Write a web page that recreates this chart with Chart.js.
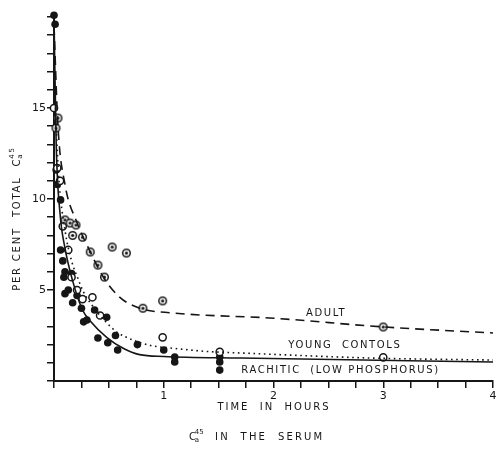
<!DOCTYPE html>
<html>
<head>
<meta charset="utf-8">
<script src="https://cdn.jsdelivr.net/npm/chart.js@4/dist/chart.umd.min.js"></script>
<style>
  html, body { margin: 0; padding: 0; background: #fff; }
</style>
</head>
<body>
<canvas id="grafica" width="500" height="457"></canvas>
<script>
// curvas ajustadas (horas, % total Ca45)
const curvaAdultoT = [0, 0.036, 0.1, 0.21, 0.33, 0.45, 0.6, 0.78, 1.08, 2.0, 3.0, 4.0];
const curvaAdultoV = [19.5, 14, 10.8, 8.7, 7.1, 5.7, 4.6, 4.0, 3.74, 3.45, 2.97, 2.64];

const curvaJovenT = [0, 0.04, 0.1, 0.16, 0.22, 0.26, 0.33, 0.48, 0.57, 0.72, 0.88, 1.08, 1.4, 1.7, 2.9, 4.0];
const curvaJovenV = [17, 11.5, 8.3, 6.6, 5.6, 5.0, 4.3, 3.2, 2.7, 2.25, 1.95, 1.8, 1.62, 1.54, 1.26, 1.15];

const curvaRaquiT = [0, 0.02, 0.055, 0.1, 0.17, 0.26, 0.33, 0.48, 0.63, 0.78, 1.0, 1.7, 4.0];
const curvaRaquiV = [20, 13, 9.2, 7.3, 5.5, 3.9, 3.3, 2.4, 1.8, 1.45, 1.35, 1.26, 1.04];

// puntos medidos
const adultoT = [0.036, 0.018, 0.1, 0.146, 0.2, 0.17, 0.26, 0.33, 0.53, 0.66, 0.4, 0.46, 0.99, 0.81, 3.0];
const adultoV = [14.45, 13.9, 8.85, 8.68, 8.57, 8.0, 7.9, 7.09, 7.36, 7.03, 6.37, 5.71, 4.4, 4.0, 2.97];

const jovenT = [0, 0.03, 0.055, 0.08, 0.13, 0.16, 0.21, 0.26, 0.35, 0.42, 0.99, 1.51, 3.0];
const jovenV = [15.0, 11.7, 11.0, 8.5, 7.2, 5.7, 5.0, 4.5, 4.6, 3.6, 2.4, 1.6, 1.3];

const raquiT = [0, 0.01, 0.02, 0.03, 0.06, 0.06, 0.08, 0.1, 0.09, 0.16, 0.1, 0.13, 0.17, 0.21, 0.25,
  0.27, 0.3, 0.37, 0.48, 0.4, 0.49, 0.56, 0.58, 0.76, 1.0, 1.1, 1.1, 1.51, 1.51, 1.51];
const raquiV = [20.1, 19.6, 11.6, 10.8, 9.95, 7.2, 6.6, 6.0, 5.7, 5.9, 4.8, 5.0, 4.3, 4.7, 4.0,
  3.25, 3.35, 3.9, 3.5, 2.36, 2.1, 2.5, 1.7, 2.0, 1.7, 1.32, 1.04, 1.32, 1.04, 0.6];

const etiquetasY = [5, 10, 15];
const etiquetasX = [1, 2, 3, 4];

// rotulos de las curvas, en coordenadas de datos
const rotulos = [
  { texto: "ADULT", t: 2.48, v: 3.74 },
  { texto: "YOUNG  CONTOLS", t: 2.65, v: 1.98 },
  { texto: "RACHITIC  (LOW PHOSPHORUS)", t: 2.61, v: 0.6 },
];

const tinta = "#161616";

const juntar = (t, v) => t.map((x, i) => ({ x: x, y: v[i] }));

function marcaAdulto() {
  const c = document.createElement("canvas");
  c.width = 11;
  c.height = 11;
  const g = c.getContext("2d");
  g.fillStyle = "#fff";
  g.strokeStyle = tinta;
  g.lineWidth = 1.5;
  g.beginPath();
  g.arc(5.5, 5.5, 3.8, 0, Math.PI * 2);
  g.fill();
  g.stroke();
  g.fillStyle = tinta;
  g.beginPath();
  g.arc(5.5, 5.5, 1.6, 0, Math.PI * 2);
  g.fill();
  return c;
}

const curva = (t, v, dash) => ({
  data: juntar(t, v),
  showLine: true,
  pointRadius: 0,
  borderColor: tinta,
  borderWidth: 1.6,
  borderDash: dash,
  cubicInterpolationMode: "monotone",
  clip: false,
});

// escribe "antes Ca45 despues" con sub y superindice, centrado en (x, y)
function textoCalcio(ctx, antes, despues, x, y) {
  const grande = '10px "DejaVu Sans"';
  const chico = '7px "DejaVu Sans"';
  ctx.font = grande;
  const w1 = ctx.measureText(antes + "C").width;
  const w3 = ctx.measureText(despues).width;
  ctx.font = chico;
  const w2 = Math.max(ctx.measureText("a").width, ctx.measureText("45").width);
  let px = x - (w1 + w2 + w3) / 2;
  ctx.textAlign = "left";
  ctx.font = grande;
  ctx.fillText(antes + "C", px, y);
  px += w1 - 1;
  ctx.font = chico;
  ctx.fillText("a", px, y + 3);
  ctx.fillText("45", px, y - 5);
  px += w2;
  ctx.font = grande;
  ctx.fillText(despues, px, y);
}

const textos = {
  id: "textos",
  afterDraw(chart) {
    const ctx = chart.ctx;
    const sx = chart.scales.x;
    const sy = chart.scales.y;
    ctx.save();
    ctx.fillStyle = tinta;
    ctx.textAlign = "center";
    ctx.textBaseline = "middle";
    ctx.font = '10px "DejaVu Sans"';
    ctx.letterSpacing = "1.6px";
    rotulos.forEach((r) => {
      ctx.fillText(r.texto, sx.getPixelForValue(r.t), sy.getPixelForValue(r.v));
    });

    ctx.letterSpacing = "2px";
    ctx.fillText("TIME  IN  HOURS", 274, 407);
    ctx.letterSpacing = "0px";
    textoCalcio(ctx, "", "  ", 200, 437);
    ctx.letterSpacing = "2.2px";
    ctx.textAlign = "left";
    ctx.fillText("IN  THE  SERUM", 215, 437);

    ctx.translate(17, 218);
    ctx.rotate(-Math.PI / 2);
    ctx.letterSpacing = "1.8px";
    textoCalcio(ctx, "PER CENT  TOTAL  ", "", 0, 0);
    ctx.restore();
  },
};

new Chart(document.getElementById("grafica"), {
  type: "scatter",
  data: {
    datasets: [
      curva(curvaAdultoT, curvaAdultoV, [9, 6]),
      curva(curvaJovenT, curvaJovenV, [1.6, 3.6]),
      curva(curvaRaquiT, curvaRaquiV, []),
      {
        data: juntar(adultoT, adultoV),
        pointStyle: marcaAdulto(),
        pointRadius: 4,
        clip: false,
      },
      {
        data: juntar(jovenT, jovenV),
        pointStyle: "circle",
        pointRadius: 3.6,
        pointBackgroundColor: "#fff",
        pointBorderColor: tinta,
        pointBorderWidth: 1.5,
        clip: false,
      },
      {
        data: juntar(raquiT, raquiV),
        pointStyle: "circle",
        pointRadius: 3.8,
        pointBackgroundColor: tinta,
        pointBorderColor: tinta,
        pointBorderWidth: 0,
        clip: false,
      },
    ],
  },
  options: {
    responsive: false,
    animation: false,
    layout: { padding: { top: 17, right: 7, left: 0, bottom: 0 } },
    plugins: { legend: { display: false }, tooltip: { enabled: false } },
    scales: {
      x: {
        type: "linear",
        min: 0,
        max: 4,
        afterFit: (s) => { s.height = 76; },
        border: { display: true, color: tinta, width: 2 },
        grid: { drawOnChartArea: false, drawTicks: true, tickLength: 7, color: tinta, lineWidth: 1.5 },
        ticks: {
          stepSize: 0.25,
          autoSkip: false,
          maxRotation: 0,
          padding: 2,
          color: tinta,
          font: { family: "DejaVu Sans", size: 11 },
          callback: (v) => (etiquetasX.includes(v) ? String(v) : ""),
        },
      },
      y: {
        type: "linear",
        min: 0,
        max: 20,
        afterFit: (s) => { s.width = 54; },
        border: { display: true, color: tinta, width: 2 },
        grid: { drawOnChartArea: false, drawTicks: true, tickLength: 7, color: tinta, lineWidth: 1.5 },
        ticks: {
          stepSize: 1,
          autoSkip: false,
          padding: 1,
          color: tinta,
          font: { family: "DejaVu Sans", size: 11 },
          callback: (v) => (etiquetasY.includes(v) ? String(v) : ""),
        },
      },
    },
  },
  plugins: [textos],
});
</script>
</body>
</html>
